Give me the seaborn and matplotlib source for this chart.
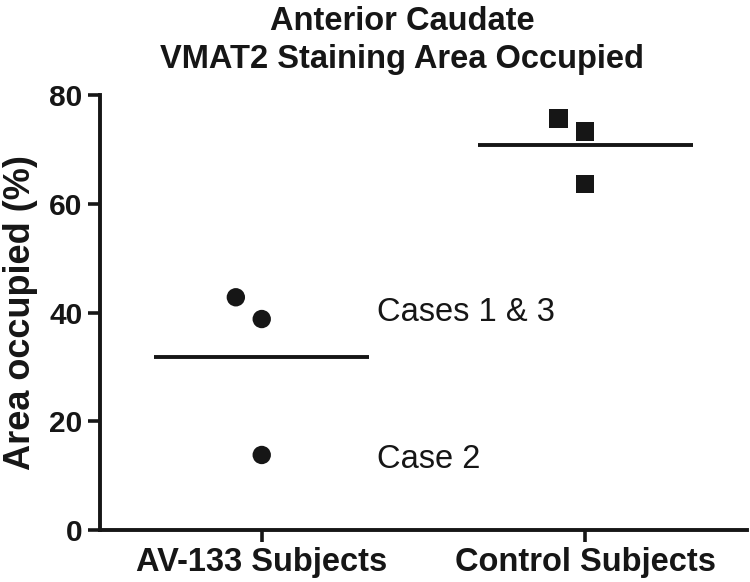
import matplotlib
matplotlib.use("Agg")
import matplotlib.pyplot as plt
import numpy as np
import pandas as pd
import seaborn as sns

# values
groups = ["AV-133 Subjects", "Control Subjects"]
av133_values = [42.8, 38.8, 13.8]
control_values = [75.7, 73.3, 63.6]
y_ticks = [0, 20, 40, 60, 80]
notes = ["Cases 1 & 3", "Case 2"]
note_values = [40.0, 13.0]

INK = "#161616"

sns.set_theme(style="ticks")
plt.rcParams["font.family"] = ["Liberation Sans", "DejaVu Sans"]

df = pd.DataFrame(
    {
        "group": [groups[0]] * len(av133_values) + [groups[1]] * len(control_values),
        "value": av133_values + control_values,
    }
)
df["idx"] = df["group"].map({g: i for i, g in enumerate(groups)})
# small horizontal spread so points do not overlap
spread = [-0.08, 0.0, 0.0, -0.083, 0.0, 0.0]
df["pos"] = df["idx"] + np.array(spread)

fig = plt.figure(figsize=(7.5, 5.82), dpi=100)
ax = fig.add_axes([0.1333, 0.0893, 0.8627, 0.7475])

sns.scatterplot(
    data=df, x="pos", y="value", style="group",
    markers={groups[0]: "o", groups[1]: "s"},
    s=175, color=INK, edgecolor=INK, linewidth=0, legend=False, ax=ax,
)

means = df.groupby("idx")["value"].mean()
for i, m in means.items():
    ax.hlines(m, i - 0.333, i + 0.333, color=INK, linewidth=2.8)

for text, val in zip(notes, note_values):
    ax.text(0.355, val, text, fontsize=23.5, color=INK, va="center", ha="left")

ax.set_xlim(-0.5, 1.5)
ax.set_ylim(0, 80)
ax.set_xticks(range(len(groups)))
ax.set_xticklabels(groups, fontsize=23.5, fontweight="bold", color=INK)
ax.set_yticks(y_ticks)
ax.set_yticklabels([str(t) for t in y_ticks], fontsize=21.5, fontweight="bold", color=INK)
ax.set_xlabel("")
ax.set_ylabel("Area occupied (%)", fontsize=26, fontweight="bold", color=INK, labelpad=8)
ax.tick_params(axis="both", length=8.5, width=2.6, color=INK, pad=4)
for side in ["top", "right"]:
    ax.spines[side].set_visible(False)
for side in ["left", "bottom"]:
    ax.spines[side].set_linewidth(2.8)
    ax.spines[side].set_color(INK)
    ax.spines[side].set_capstyle("projecting")

fig.text(0.536, 0.99, "Anterior Caudate\nVMAT2 Staining Area Occupied",
         ha="center", va="top", fontsize=23.5, fontweight="bold", color=INK,
         linespacing=1.3)

fig.savefig("out.png", dpi=100)
